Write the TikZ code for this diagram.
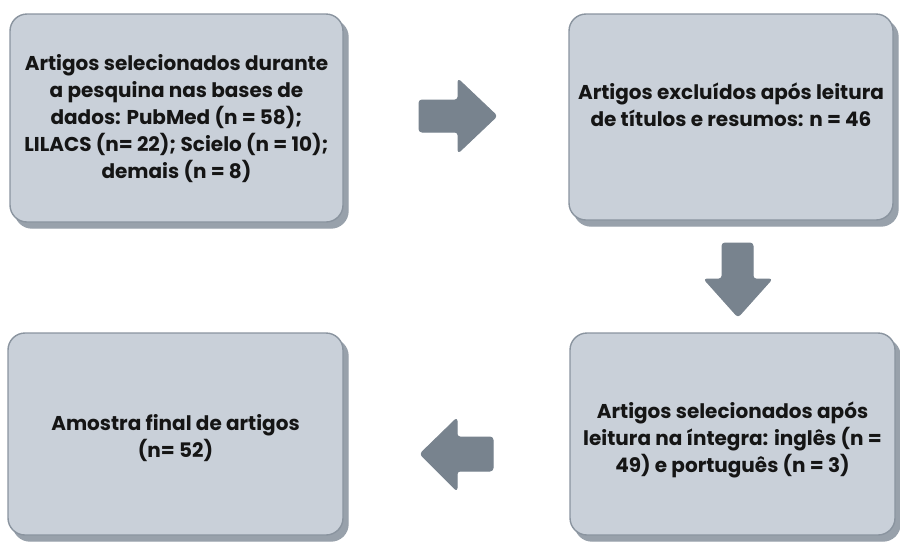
\documentclass[tikz,border=0pt]{standalone}
\usepackage{fontspec}
\setmainfont{Poppins}[UprightFont=* Bold, BoldFont=* Bold]
\usetikzlibrary{shadows}
\definecolor{boxfill}{HTML}{C9D0D9}
\definecolor{boxline}{HTML}{8A949F}
\definecolor{boxshadow}{HTML}{98A1AB}
\definecolor{arrowfill}{HTML}{78838E}
\definecolor{txt}{HTML}{151515}
\tikzset{
  box/.style={draw=boxline, line width=1.4pt, fill=boxfill, rounded corners=17pt,
    general shadow={fill=boxshadow, draw=boxshadow, shadow xshift=5pt, shadow yshift=-6pt},
    inner sep=0pt},
  boxtext/.style={text=txt, align=center, font=\fontsize{20}{27}\selectfont\bfseries},
  blockarrow/.style={fill=arrowfill, draw=arrowfill, line width=1pt, rounded corners=3pt, line join=round}
}
\begin{document}
\begin{tikzpicture}[x=1pt,y=-1pt]
\useasboundingbox (0,0) rectangle (900,542);
% boxes
\node[box, minimum width=333pt, minimum height=208pt] (b1) at (176.5,118) {};
\node[box, minimum width=324pt, minimum height=206pt] (b2) at (731,117) {};
\node[box, minimum width=325pt, minimum height=202pt] (b3) at (732.5,434) {};
\node[box, minimum width=335pt, minimum height=202pt] (b4) at (175.5,434) {};
% texts
\node[boxtext] (t1) at ([yshift=-1pt]b1.center) {Artigos selecionados durante\\a pesquina nas bases de\\dados: PubMed (n = 58);\\LILACS (n= 22); Scielo (n = 10);\\demais (n = 8)};
\node[boxtext] (t2) at ([yshift=12pt]b2.center) {Artigos excluídos após leitura\\de títulos e resumos: n = 46};
\node[boxtext] (t3) at ([yshift=-6pt]b3.center) {Artigos selecionados após\\leitura na íntegra: inglês (n =\\49) e português (n = 3)};
\node[boxtext] (t4) at ([yshift=-4pt]b4.center) {Amostra final de artigos\\(n= 52)};
% block arrows
\draw[blockarrow] (419,100) -- (458,100) -- (458,79) -- (497,116) -- (458,153) -- (458,132) -- (419,132) -- cycle;
\draw[blockarrow] (722,243) -- (753,243) -- (753,279) -- (772,279) -- (738,317) -- (704,279) -- (722,279) -- cycle;
\draw[blockarrow] (493,437) -- (457,437) -- (457,418) -- (420,454) -- (457,491) -- (457,471) -- (493,471) -- cycle;
\end{tikzpicture}
\end{document}
